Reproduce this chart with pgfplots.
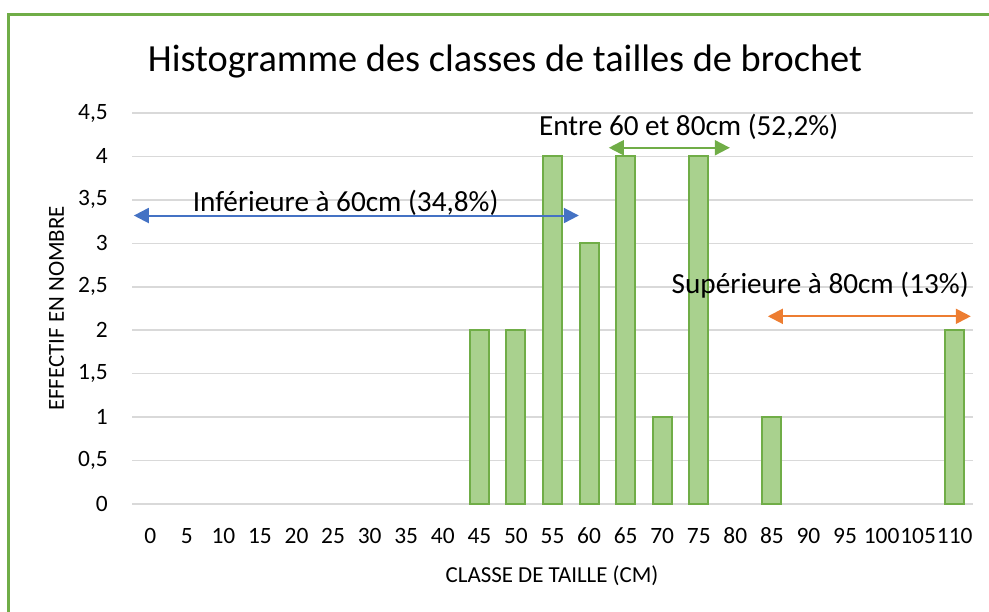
\documentclass[border=0pt]{standalone}
\usepackage{fontspec}
\setmainfont{Carlito}
\usepackage{pgfplots}
\pgfplotsset{compat=1.18}
\usetikzlibrary{arrows.meta}
\definecolor{barfill}{HTML}{A9D18E}
\definecolor{baredge}{HTML}{70AD47}
\definecolor{gridc}{HTML}{D9D9D9}
\definecolor{ablue}{HTML}{4472C4}
\definecolor{aorange}{HTML}{ED7D31}
\begin{document}
\begin{tikzpicture}
\path[use as bounding box] (0bp,0bp) rectangle (989bp,612bp);
\draw[baredge, line width=3bp] (8bp,-5bp) -- (8bp,597.5bp) -- (995bp,597.5bp);
\begin{axis}[
  at={(132bp,108bp)}, anchor=south west,
  scale only axis, width=841bp, height=391bp,
  xmin=-0.5, xmax=22.5, ymin=0, ymax=4.5,
  clip=false,
  axis line style={draw=none},
  major tick length=0pt,
  ymajorgrids, grid style={gridc, line width=1.5bp},
  ytick={0,0.5,1,1.5,2,2.5,3,3.5,4,4.5},
  xtick={0,1,2,3,4,5,6,7,8,9,10,11,12,13,14,15,16,17,18,19,20,21,22},
  xticklabels={0,5,10,15,20,25,30,35,40,45,50,55,60,65,70,75,80,85,90,95,100,105,110},
  /pgf/number format/assume math mode=true,
  /pgf/number format/use comma,
  yticklabel style={font=\fontsize{23.5}{23.5}\selectfont, inner sep=0pt, anchor=east, xshift=-24bp},
  xticklabel style={font=\fontsize{23.5}{23.5}\selectfont, inner sep=0pt, anchor=center, yshift=-32bp},
  xlabel={CLASSE DE TAILLE (CM)},
  ylabel={EFFECTIF EN NOMBRE},
  every axis x label/.style={at={(axis description cs:0.4995,-0.202)}, anchor=base, inner sep=0pt, font=\fontsize{23}{23}\selectfont},
  every axis y label/.style={at={(axis description cs:-0.0809,0.5)}, anchor=base, inner sep=0pt, rotate=90, font=\fontsize{23}{23}\selectfont},
  title={Histogramme des classes de tailles de brochet},
  every axis title/.style={at={(axis description cs:0.4435,1.105)}, anchor=base, inner sep=0pt, font=\fontsize{38.5}{38.5}\selectfont},
]
\addplot[ybar, bar width=19bp, fill=barfill, draw=baredge, line width=2bp]
  coordinates {(9,2) (10,2) (11,4) (12,3) (13,4) (14,1) (15,4) (17,1) (22,2)};
\draw[ablue, line width=2bp, arrows={Triangle[length=15bp,width=15bp]-Triangle[length=15bp,width=15bp]}]
  (axis cs:-0.45,3.32) -- (axis cs:11.72,3.32);
\draw[baredge, line width=2bp, arrows={Triangle[length=15bp,width=15bp]-Triangle[length=15bp,width=15bp]}]
  (axis cs:12.54,4.10) -- (axis cs:15.85,4.10);
\draw[aorange, line width=2bp, arrows={Triangle[length=15bp,width=15bp]-Triangle[length=15bp,width=15bp]}]
  (axis cs:16.89,2.16) -- (axis cs:22.44,2.16);
\node[font=\fontsize{29.3}{29.3}\selectfont, inner sep=0pt, anchor=base] at (axis cs:5.34,3.372) {Inférieure à 60cm (34,8\%)};
\node[font=\fontsize{29.3}{29.3}\selectfont, inner sep=0pt, anchor=base] at (axis cs:14.72,4.246) {Entre 60 et 80cm (52,2\%)};
\node[font=\fontsize{29.3}{29.3}\selectfont, inner sep=0pt, anchor=base] at (axis cs:18.32,2.425) {Supérieure à 80cm (13\%)};
\end{axis}
\end{tikzpicture}
\end{document}
